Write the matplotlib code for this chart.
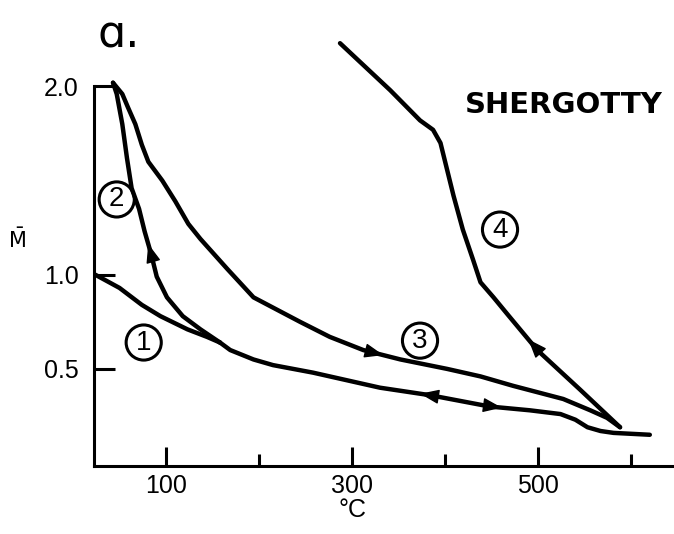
import matplotlib
matplotlib.use("Agg")
import matplotlib.pyplot as plt
import numpy as np

# values (temperature in deg C, normalised M)
t1 = [24, 50, 74, 94, 123, 144, 158]
m1 = [1.00, 0.93, 0.84, 0.78, 0.71, 0.67, 0.64]

# curve 2: from the crossing up to the peak at 2.0
t2 = [158, 137, 118, 101, 90, 84, 77, 71, 63, 58, 53, 47, 43]
m2 = [0.64, 0.71, 0.78, 0.88, 0.99, 1.11, 1.23, 1.35, 1.46, 1.62, 1.80,
      1.96, 2.02]

# curve 3: from the peak out to ~590 C
t3 = [43, 53, 59, 67, 74, 81, 96, 110, 124, 137, 166, 194, 244, 276,
      312, 352, 402, 438, 473, 527, 556, 574, 588]
m3 = [2.02, 1.96, 1.89, 1.80, 1.69, 1.60, 1.50, 1.39, 1.27, 1.19, 1.03,
      0.88, 0.75, 0.67, 0.60, 0.55, 0.50, 0.46, 0.41, 0.34, 0.28, 0.24, 0.19]

# curve 4: cooling back from ~590 C
t4 = [588, 545, 499, 467, 452, 438, 430, 419, 409, 402, 395, 387, 373,
      341, 287]
m4 = [0.19, 0.39, 0.60, 0.79, 0.88, 0.96, 1.08, 1.24, 1.42, 1.56, 1.70,
      1.77, 1.82, 1.98, 2.23]

# lower branch, crossing to 620 C
t5 = [158, 169, 194, 215, 258, 330, 384, 448, 491, 524, 540, 553, 567,
      581, 620]
m5 = [0.64, 0.60, 0.55, 0.52, 0.48, 0.40, 0.36, 0.30, 0.28, 0.26, 0.23,
      0.19, 0.17, 0.16, 0.15]

# circled curve numbers
label_txt = ["1", "2", "3", "4"]
label_t = [76, 47, 373, 459]
label_m = [0.64, 1.40, 0.65, 1.24]

plt.rcParams['font.family'] = ['Liberation Sans', 'DejaVu Sans']

fig = plt.figure(figsize=(6.74, 5.34), dpi=100)
ax = fig.add_axes([0.1395, 0.1273, 0.8605, 0.8165])
ax.set_xlim(22.6, 646)
ax.set_ylim(-0.016, 2.30)

curves = [(t1, m1), (t2, m2), (t3, m3), (t4, m4), (t5, m5)]
for t, m in curves:
    ax.plot(t, m, color='k', lw=3.2, solid_capstyle='round',
            solid_joinstyle='round')


def arrow_on(t, m, f_tip, f_tail):
    idx = np.arange(len(t))
    tip = (np.interp(f_tip, idx, t), np.interp(f_tip, idx, m))
    tail = (np.interp(f_tail, idx, t), np.interp(f_tail, idx, m))
    ax.annotate('', xy=tip, xytext=tail,
                arrowprops=dict(arrowstyle='-|>,head_length=0.65,head_width=0.25',
                                mutation_scale=18, color='k', lw=1,
                                shrinkA=0, shrinkB=0))


arrow_on(t2, m2, 5.45, 5.0)
arrow_on(t3, m3, 14.54, 14.0)
arrow_on(t5, m5, 5.8, 6.1)
arrow_on(t5, m5, 7.3, 6.8)
arrow_on(t4, m4, 2.3, 1.9)

# circled numbers
ax.scatter(label_t, label_m, s=640, facecolors='none', edgecolors='k',
           linewidths=2.2, zorder=3)
for s, t, m in zip(label_txt, label_t, label_m):
    ax.text(t, m, s, ha='center', va='center', fontsize=20)

# axes
ax.spines['top'].set_visible(False)
ax.spines['right'].set_visible(False)
ax.spines['left'].set_bounds(-0.016, 2.0)
ax.spines['left'].set_linewidth(2.2)
ax.spines['bottom'].set_linewidth(2.2)

ax.set_xticks([100, 300, 500])
ax.set_xticks([200, 400, 600], minor=True)
ax.set_xticklabels(['100', '300', '500'])
ax.tick_params(axis='x', which='major', direction='in', length=14, width=2.2,
               labelsize=18, pad=6)
ax.tick_params(axis='x', which='minor', direction='in', length=9, width=2.2)

ax.set_yticks([0.5, 1.0, 2.0])
ax.set_yticklabels(['0.5', '1.0', '2.0'])
ax.tick_params(axis='y', direction='in', length=15, width=2.2,
               labelsize=18, pad=11)

ax.text(300, -0.101, '°C', transform=ax.get_xaxis_transform(),
        ha='center', va='center', fontsize=18)
fig.text(17 / 674, 1 - 240 / 534, r'$\bar{\mathrm{M}}$', ha='center',
         va='center', fontsize=15)
fig.text(97 / 674, 1 - 47 / 534, 'ɑ.', fontsize=32, family=['DejaVu Sans'],
         va='baseline')
fig.text(465 / 674, 1 - 113 / 534, 'SHERGOTTY', fontsize=21,
         fontweight='bold', family=['DejaVu Sans'], va='baseline')

fig.savefig('out.png', dpi=100)
